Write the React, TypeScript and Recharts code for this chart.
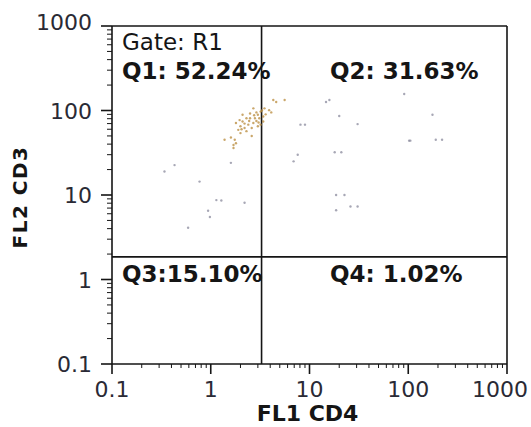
import * as React from 'react';
import {
  ScatterChart, Scatter, XAxis, YAxis, ReferenceLine
} from 'recharts';

// gated events, [FL1 CD4, FL2 CD3]
const CLUSTER_POINTS: [number, number][] = [
  [4.3, 133], [4.6, 126], [5.6, 133], [3.5, 106], [3.9, 101], [4.1, 95],
  [3.6, 90], [3.4, 85], [3.4, 74], [3.0, 89], [2.7, 106], [2.5, 92],
  [2.3, 81], [2.1, 74], [1.96, 77], [1.8, 71], [2.0, 65], [2.2, 62],
  [2.4, 68], [2.6, 62], [2.7, 71], [2.9, 75], [3.1, 81], [3.2, 68],
  [2.8, 81], [3.0, 65], [1.9, 59], [2.0, 54], [1.75, 45], [1.8, 41],
  [1.7, 39], [1.38, 45], [1.7, 36], [2.3, 57], [2.5, 81], [2.1, 89],
  [3.2, 97], [2.6, 50], [3.3, 100], [2.9, 95], [2.2, 70], [2.45, 75],
  [2.75, 88], [3.05, 72], [1.6, 48], [2.05, 60],
];

const SPARSE_POINTS: [number, number][] = [
  [15.9, 133], [14.7, 126], [20, 86], [30.7, 69], [8.1, 68], [9.0, 68],
  [91, 157], [176, 89], [102, 44], [105, 44], [190, 45], [220, 45],
  [7.6, 30], [6.9, 25], [18, 32], [21, 32], [0.43, 22.6], [0.34, 19],
  [0.77, 14.4], [1.6, 24], [1.14, 8.7], [1.28, 8.6], [2.2, 8.1],
  [0.94, 6.5], [0.98, 5.5], [0.59, 4.1], [18.6, 10], [18.6, 6.6],
  [26, 7.3], [22.6, 10], [30.7, 7.3],
];

const MAJOR_TICKS = [0.1, 1, 10, 100, 1000];
const TICK_LABELS = ['0.1', '1', '10', '100', '1000'];

// quadrant gate
const GATE_X = 3.27;
const GATE_Y = 1.85;

const QUADRANT_LABELS = ['Q1: 52.24%', 'Q2: 31.63%', 'Q3:15.10%', 'Q4: 1.02%'];
const GATE_NAME = 'Gate: R1';

const MINOR_TICKS = MAJOR_TICKS.slice(0, -1).flatMap((d) =>
  [2, 3, 4, 5, 6, 7, 8, 9].map((m) => +(m * d).toPrecision(3))
);
const ALL_TICKS = [...MAJOR_TICKS, ...MINOR_TICKS].sort((a, b) => a - b);

const toRows = (pts: [number, number][]) => pts.map(([x, y]) => ({ x, y }));

const FONT = '"DejaVu Sans", Arial, sans-serif';
const INK = '#151515';

const XTick = (props: any) => {
  const { x, y, payload } = props;
  const idx = MAJOR_TICKS.indexOf(payload.value);
  const major = idx >= 0;
  return (
    <g>
      <line x1={x} x2={x} y1={y} y2={y + (major ? 10 : 4)} stroke={INK} strokeWidth={major ? 1.6 : 1} />
      {major && (
        <text x={idx === 4 ? x - 7 : x} y={y + 33} textAnchor="middle" fontFamily={FONT} fontSize={22} fill="#2a2a35">
          {TICK_LABELS[idx]}
        </text>
      )}
    </g>
  );
};

const YTick = (props: any) => {
  const { x, y, payload } = props;
  const idx = MAJOR_TICKS.indexOf(payload.value);
  const major = idx >= 0;
  return (
    <g>
      <line x1={x} x2={x - (major ? 11 : 5)} y1={y} y2={y} stroke={INK} strokeWidth={major ? 1.6 : 1} />
      {major && (
        <text x={x - 20} y={idx === 4 ? y + 4 : y + 8} textAnchor="end" fontFamily={FONT} fontSize={22} fill="#2a2a35">
          {TICK_LABELS[idx]}
        </text>
      )}
    </g>
  );
};

const Dot = (color: string) => (props: any) => {
  const { cx, cy } = props;
  return <circle cx={cx} cy={cy} r={1.2} fill={color} fillOpacity={0.75} />;
};

const App: React.FunctionComponent = () => {
  return (
    <div style={{ position: 'relative', width: 531, height: 427, background: '#fff' }}>
      <style>{'body{margin:0}'}</style>
      <ScatterChart width={531} height={427} margin={{ top: 26, right: 24, bottom: 0, left: 0 }}>
        <XAxis
          type="number"
          dataKey="x"
          scale="log"
          domain={[0.1, 1000]}
          allowDataOverflow
          ticks={ALL_TICKS}
          interval={0}
          height={63}
          tick={<XTick />}
          tickLine={false}
          tickSize={0}
          tickMargin={0}
          axisLine={{ stroke: INK, strokeWidth: 1.6 }}
          label={{ value: 'FL1  CD4', position: 'insideBottom', offset: 6, dx: -2, fontFamily: FONT, fontSize: 22, fontWeight: 'bold', fill: INK }}
        />
        <YAxis
          type="number"
          dataKey="y"
          scale="log"
          domain={[0.1, 1000]}
          allowDataOverflow
          ticks={ALL_TICKS}
          interval={0}
          width={112}
          tick={<YTick />}
          tickLine={false}
          tickSize={0}
          tickMargin={0}
          axisLine={{ stroke: INK, strokeWidth: 1.6 }}
          label={{ value: 'FL2  CD3', angle: -90, position: 'insideLeft', offset: 20, dy: 2, fontFamily: FONT, fontSize: 20, fontWeight: 'bold', fill: INK, letterSpacing: 1.5, textAnchor: 'middle' }}
        />
        <ReferenceLine y={1000} stroke={INK} strokeWidth={1.6} />
        <ReferenceLine x={1000} stroke={INK} strokeWidth={1.6} />
        <ReferenceLine x={GATE_X} stroke={INK} strokeWidth={1.6} />
        <ReferenceLine y={GATE_Y} stroke={INK} strokeWidth={1.6} />
        <Scatter data={toRows(SPARSE_POINTS)} shape={Dot('#8a8a9c')} isAnimationActive={false} />
        <Scatter data={toRows(CLUSTER_POINTS)} shape={Dot('#b8893a')} isAnimationActive={false} />
      </ScatterChart>
      <svg width={531} height={427} style={{ position: 'absolute', left: 0, top: 0, pointerEvents: 'none' }}>
        <g fontFamily={FONT} fill={INK}>
          <text x={122} y={50} fontSize={23}>{GATE_NAME}</text>
          <text x={122} y={79} fontSize={23} fontWeight="bold">{QUADRANT_LABELS[0]}</text>
          <text x={330} y={79} fontSize={23} fontWeight="bold">{QUADRANT_LABELS[1]}</text>
          <text x={122} y={282} fontSize={23} fontWeight="bold">{QUADRANT_LABELS[2]}</text>
          <text x={330} y={282} fontSize={23} fontWeight="bold">{QUADRANT_LABELS[3]}</text>
        </g>
      </svg>
    </div>
  );
};

export default App;
